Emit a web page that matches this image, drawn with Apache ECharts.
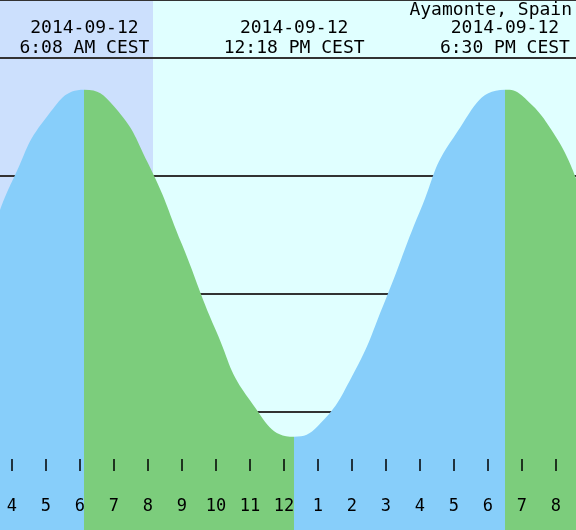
<!DOCTYPE html>
<html><head><meta charset="utf-8">
<script src="https://cdn.jsdelivr.net/npm/echarts@6/dist/echarts.min.js"></script>
<style>html,body{margin:0;padding:0;background:#e0ffff}#c{width:576px;height:530px}</style>
</head><body><div id="c"></div>
<script>
const location_ = 'Ayamonte, Spain';
const hours = [3.65,4,5,6.133,7,8,9,10,11,12.3,13,14,15,16,17,18.5,19,20,20.6];
const heights = [2.21,2.45,2.99,3.23,3.09,2.61,1.92,1.19,0.60,0.29,0.38,0.80,1.46,2.20,2.83,3.23,3.18,2.83,2.47];
const extremeHours = [6.133,12.3,18.5];
const extremeLabels = [['2014-09-12','6:08 AM CEST'],['2014-09-12','12:18 PM CEST'],['2014-09-12','6:30 PM CEST']];
const sunriseHour = 8.15;
const xMin = 3.65, xMax = 20.59;

const chart = echarts.init(document.getElementById('c'));
const font = '"DejaVu Sans Mono", monospace';
chart.setOption({
  backgroundColor:'#e0ffff',
  animation:false,
  grid:{left:0,right:0,top:0,bottom:0},
  xAxis:{type:'value',min:xMin,max:xMax,splitNumber:17,z:10,
    axisLine:{show:false},splitLine:{show:false},
    axisTick:{show:true,inside:true,length:12,lineStyle:{color:'#000',width:1.5}},
    axisLabel:{inside:true,margin:15,showMinLabel:false,showMaxLabel:false,color:'#000',fontFamily:font,fontSize:17,
      formatter:v=>String((v%12)||12)}},
  yAxis:{type:'value',min:-0.5,max:3.99,interval:1,axisLine:{show:false},axisTick:{show:false},axisLabel:{show:false},
    splitLine:{show:true,lineStyle:{color:'#333',width:2}}},
  visualMap:{show:false,type:'piecewise',dimension:0,seriesIndex:0,pieces:[
    {lt:extremeHours[0],color:'#87cefa'},
    {gte:extremeHours[0],lt:extremeHours[1],color:'#7ccd7c'},
    {gte:extremeHours[1],lt:extremeHours[2],color:'#87cefa'},
    {gte:extremeHours[2],color:'#7ccd7c'}]},
  series:[
    {type:'line',z:2,silent:true,smooth:true,showSymbol:false,data:hours.map((h,i)=>[h,heights[i]]),lineStyle:{width:0},areaStyle:{opacity:1,origin:'start'}}
  ]
});
const x0 = chart.convertToPixel({xAxisIndex:0},xMin);
const x1 = chart.convertToPixel({xAxisIndex:0},sunriseHour);
const g = [
  {id:'night',type:'rect',z:-10,silent:true,shape:{x:x0,y:0,width:x1-x0,height:530},style:{fill:'#cce0fd'}},
  {id:'loc',type:'text',z:20,right:4,top:1,style:{text:location_,font:'18px '+font,fill:'#000'}}
];
extremeHours.forEach((h,i)=>{
  const x = chart.convertToPixel({xAxisIndex:0},h);
  g.push({id:'h'+i,type:'text',z:20,x:x,y:18,style:{text:extremeLabels[i].join('\n'),font:'18px '+font,fill:'#000',align:'center',lineHeight:20}});
});
chart.setOption({graphic:g});
</script></body></html>
